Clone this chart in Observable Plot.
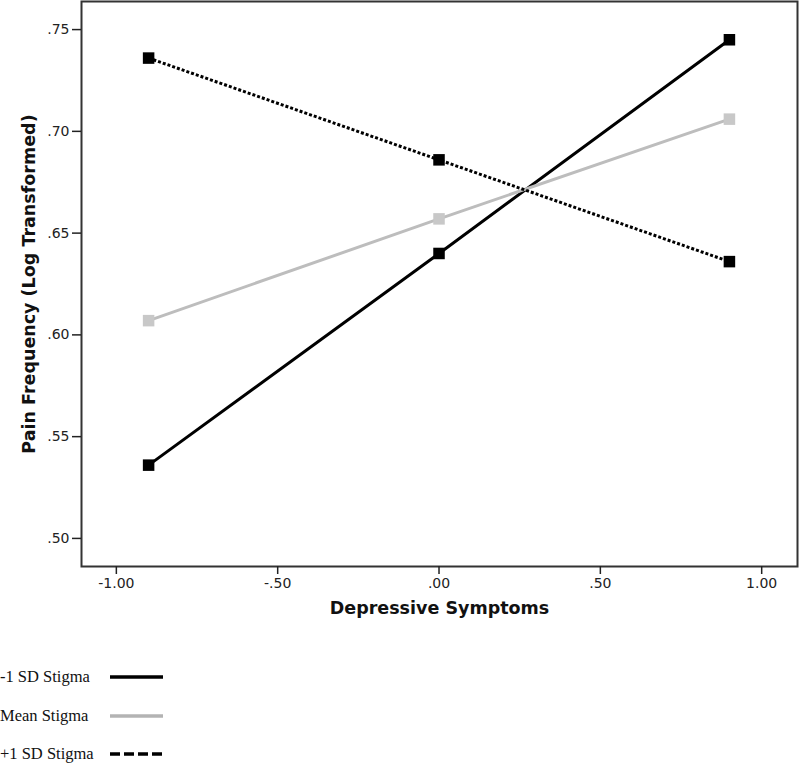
<!DOCTYPE html>
<html>
<head>
<meta charset="utf-8">
<script src="https://cdn.jsdelivr.net/npm/d3@7"></script>
<script src="https://cdn.jsdelivr.net/npm/@observablehq/plot@0.6"></script>
<style>
  html, body { margin: 0; padding: 0; background: #fff; }
  #legend { position: relative; height: 123px; font-family: "Liberation Serif", "Times New Roman", serif; font-size: 16.5px; color: #111; }
  .row { position: absolute; left: 0; height: 20px; display: flex; align-items: center; }
  .row span { display: inline-block; width: 110px; }
</style>
</head>
<body>
<div id="chart"></div>
<div id="legend"></div>
<script>
const depressive = [-0.9, 0, 0.9];
const seriesNames = ["-1 SD Stigma", "Mean Stigma", "+1 SD Stigma"];
const lowStigma = [0.536, 0.640, 0.745];
const meanStigma = [0.607, 0.657, 0.706];
const highStigma = [0.736, 0.686, 0.636];
const yTicks = [0.50, 0.55, 0.60, 0.65, 0.70, 0.75];
const xTicks = [-1.0, -0.5, 0, 0.5, 1.0];

const styles = {
  "-1 SD Stigma": {stroke: "#000", marker: "#000", dash: null},
  "Mean Stigma": {stroke: "#bdbdbd", marker: "#c8c8c8", dash: null},
  "+1 SD Stigma": {stroke: "#000", marker: "#000", dash: "3,2"}
};

const seriesValues = [lowStigma, meanStigma, highStigma];
const rows = seriesNames.flatMap((s, i) => depressive.map((x, j) => ({series: s, x, y: seriesValues[i][j]})));

const fmt = v => {
  const s = Math.abs(v).toFixed(2).replace(/^0/, "");
  return (v < 0 ? "-" : "") + s;
};

const marks = [];
for (const s of seriesNames) {
  const d = rows.filter(r => r.series === s);
  marks.push(Plot.line(d, {x: "x", y: "y", stroke: styles[s].stroke, strokeWidth: 3, strokeDasharray: styles[s].dash, strokeLinecap: "butt"}));
}
for (const s of seriesNames) {
  const d = rows.filter(r => r.series === s);
  marks.push(Plot.dot(d, {x: "x", y: "y", symbol: "square", r: 6.5, fill: styles[s].marker, stroke: "none"}));
}

const chart = Plot.plot({
  width: 800,
  height: 640,
  marginLeft: 81,
  marginRight: 3,
  marginTop: 1,
  marginBottom: 74,
  style: {fontFamily: "DejaVu Sans, sans-serif", fontSize: "14px", color: "#222", background: "#fff"},
  x: {domain: [-1.108, 1.111]},
  y: {domain: [0.4862, 0.7638]},
  marks: [
    Plot.frame({stroke: "#333", strokeWidth: 2}),
    Plot.axisY(yTicks, {tickFormat: fmt, tickSize: 9, tickPadding: 3, fontSize: 14, label: null, stroke: "#222", strokeWidth: 1.5}),
    Plot.axisX(xTicks, {tickFormat: fmt, tickSize: 8, tickPadding: 4, fontSize: 14, label: null, stroke: "#222", strokeWidth: 1.5}),
    Plot.text(["Depressive Symptoms"], {frameAnchor: "bottom", dy: 47, fontSize: 17.5, fontWeight: "bold", fill: "#111"}),
    Plot.text(["Pain Frequency (Log Transformed)"], {frameAnchor: "left", dx: -52, rotate: -90, textAnchor: "middle", fontSize: 17.5, fontWeight: "bold", fill: "#111"}),
    ...marks
  ]
});
document.getElementById("chart").appendChild(chart);

const legend = document.getElementById("legend");
const legendY = [37, 76, 114];
seriesNames.forEach((s, i) => {
  const row = document.createElement("div");
  row.className = "row";
  row.style.top = (legendY[i] - 10) + "px";
  const label = document.createElement("span");
  label.textContent = s;
  row.appendChild(label);
  const svg = d3.create("svg").attr("width", 56).attr("height", 8);
  svg.append("line").attr("x1", 0).attr("x2", 53).attr("y1", 4).attr("y2", 4)
    .attr("stroke", s === "Mean Stigma" ? "#b3b3b3" : "#000")
    .attr("stroke-width", 3.5)
    .attr("stroke-dasharray", s === "+1 SD Stigma" ? "10,4" : null);
  row.appendChild(svg.node());
  legend.appendChild(row);
});
</script>
</body>
</html>
